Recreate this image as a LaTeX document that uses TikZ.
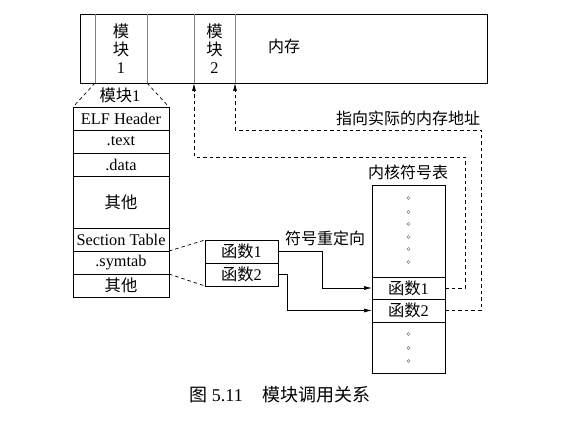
\documentclass[tikz,border=0pt]{standalone}
\usepackage{fontspec}
\setmainfont{Liberation Serif}
\newfontfamily\cjk{Noto Sans CJK SC}
\usetikzlibrary{arrows.meta}
\begin{document}
\begin{tikzpicture}[x=1pt,y=-1pt,
  font=\fontsize{16.3}{18}\selectfont,
  line width=0.7pt,
  box/.style={draw, anchor=north west, inner sep=0pt, outer sep=0pt},
  mrow/.style={box, minimum width=96pt, minimum height=23pt},
  frow/.style={box, minimum width=73pt, minimum height=23pt},
  krow/.style={box, minimum width=73pt},
  mcell/.style={anchor=north west, inner sep=0pt, outer sep=0pt, minimum height=69pt, align=center},
  dashline/.style={dash pattern=on 3.5pt off 3pt},
  tipend/.style={-{Latex[length=8pt,width=4pt]}},
  zh/.style={font=\fontsize{16}{18}\selectfont\cjk}]
\useasboundingbox (0,0) rectangle (579,422);
% memory bar
\node[mcell, minimum width=15pt] (c0) at (80,14) {};
\node[mcell, minimum width=52pt] (m1) at (95,14) {{\cjk 模}\\{\cjk 块}\\1};
\node[mcell, minimum width=47pt] (c2) at (147,14) {};
\node[mcell, minimum width=41pt] (m2) at (194,14) {{\cjk 模}\\{\cjk 块}\\2};
\node[mcell, minimum width=252pt] (mem) at (235,14) {};
\node[zh] (memt) at (284,46) {内存};
\draw (c0.north west) rectangle (mem.south east);
\draw[gray] (m1.north west) -- (m1.south west);
\draw[gray] (m1.north east) -- (m1.south east);
\draw[gray] (m2.north west) -- (m2.south west);
\draw[gray] (m2.north east) -- (m2.south east);
% module 1 table
\node (mod1) at (120,95) {{\cjk 模块}1};
\node[mrow] (elf) at (73,107) {ELF Header};
\node[mrow] (text) at (73,130) {.text};
\node[mrow] (data) at (73,153) {.data};
\node[mrow, minimum height=52pt] (oth1) at (73,176) {\cjk 其他};
\node[mrow] (sect) at (73,228) {Section Table};
\node[mrow] (sym) at (73,251) {.symtab};
\node[mrow] (oth2) at (73,274) {\cjk 其他};
\draw[dashline] (m1.south west) -- (elf.north west);
\draw[dashline] (m1.south east) -- (elf.north east);
% function box
\node[frow] (f1) at (205,240) {{\cjk 函数}1};
\node[frow] (f2) at (205,263) {{\cjk 函数}2};
\draw[dashline] (sect.south east) -- (f1.north west);
\draw[dashline] (sym.south east) -- (f2.south west);
% kernel symbol table
\node[zh] (ktitle) at (408,172) {内核符号表};
\node[krow, minimum height=92pt] (ktop) at (372,185) {};
\node[krow, minimum height=22pt] (k1) at (372,277) {{\cjk 函数}1};
\node[krow, minimum height=23pt] (k2) at (372,299) {{\cjk 函数}2};
\node[krow, minimum height=51pt] (kbot) at (372,322) {};
\foreach \yy in {198,212,224,237,249,262,334,348,361}
  \draw[gray, line width=0.5pt] (408.5,\yy) circle (1.6pt);
% relocation arrows
\node[zh] (reloc) at (325,238) {符号重定向};
\coordinate (j1) at (322,252);
\coordinate (j2) at (287,274);
\draw[tipend] (f1.east) -- (f1.east -| j1) |- (k1.west);
\draw[tipend] (f2.east) -- (f2.east -| j2) |- (k2.west);
% pointers to memory
\node[zh] (addr) at (408,118) {指向实际的内存地址};
\coordinate (r1) at (465,157);
\coordinate (r2) at (481,130);
\draw[dashline, tipend] (k1.east) -| (r1) -| (m2.south west);
\draw[dashline, tipend] (k2.east) -| (r2) -| (m2.south east);
% caption
\node (cap) at (280,395) {\fontsize{18}{20}\selectfont{\cjk 图} 5.11\hspace{1.1em}{\cjk 模块调用关系}};
\end{tikzpicture}
\end{document}
